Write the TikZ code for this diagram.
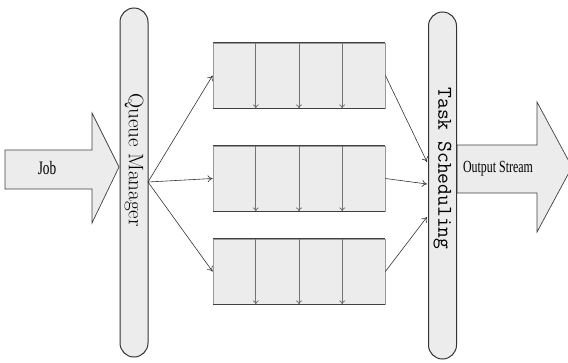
\documentclass[tikz,border=0pt]{standalone}
\usepackage{fontspec}
\newfontfamily\narrowfont[FakeStretch=0.7]{Liberation Serif}
\usetikzlibrary{calc, arrows.meta}

\tikzset{
    pill/.style={draw=black!80, fill=gray!15, line width=1pt, rounded corners=14pt,
        rotate=-90, minimum height=28pt, inner sep=0pt},
    pilltext/.style={rotate=-90, inner sep=0pt},
    queue/.style={draw=gray!80, fill=gray!15, line width=0.8pt,
        minimum width=172pt, minimum height=65pt, inner sep=0pt},
    edge/.style={black!75, line width=1pt},
    cellarrow/.style={-{To[length=4pt, width=6pt]}, gray!90!black, line width=0.8pt},
    link/.style={-{To[length=5pt, width=7pt]}, black!80, line width=0.6pt},
    blockarrow/.style={draw=black!75, fill=gray!15, line width=0.7pt}
}

\begin{document}
\begin{tikzpicture}[x=1pt, y=-1pt]
    \useasboundingbox (0,0) rectangle (568,362);

    % Input job
    \draw[blockarrow] (5,150) -- (92,150) -- (92,113) -- (119,167)
        -- (92,223) -- (92,189) -- (5,189) -- cycle;
    \node (job) at (47,168) {\narrowfont\fontsize{19}{21}\selectfont Job};

    % Output stream
    \draw[blockarrow] (457,145) -- (537,145) -- (537,102) -- (572,167)
        -- (537,232) -- (537,193) -- (457,193) -- cycle;
    \node (out) at (498,169) {\narrowfont\fontsize{17}{19}\selectfont Output Stream};

    % Managers
    \node[pill, minimum width=349pt] (qm) at (134,182.5) {};
    \node[pilltext] (qmtext) at (134,160)
        {\fontsize{21}{23}\selectfont Queue Manager};
    \node[pill, minimum width=347pt] (ts) at (442.5,185.5) {};
    \node[pilltext] (tstext) at (442.5,168.5)
        {\ttfamily\fontsize{21}{23}\selectfont Task Scheduling};

    % Queues
    \node[queue] (q1) at (299,75.5) {};
    \node[queue] (q2) at (299,178.5) {};
    \node[queue] (q3) at (299,271.5) {};
    \foreach \q in {q1,q2,q3} {
        \foreach \i in {1,2,3}
            \draw[cellarrow] ($(\q.north west)!\i/4!(\q.north east)$)
                -- ($(\q.south west)!\i/4!(\q.south east)$);
        \draw[edge] (\q.north west) -- (\q.north east);
        \draw[edge] (\q.south west) -- (\q.south east);
    }

    % Links
    \coordinate (qmout) at (148,182);
    \coordinate (ts1) at (427,162);
    \coordinate (ts2) at (427,184);
    \coordinate (ts3) at (427,217);
    \foreach \q in {q1,q2,q3}
        \draw[link] (qmout) -- (\q.west);
    \draw[link] (q1.east) -- (ts1);
    \draw[link] (q2.east) -- (ts2);
    \draw[link] (q3.east) -- (ts3);
\end{tikzpicture}
\end{document}
